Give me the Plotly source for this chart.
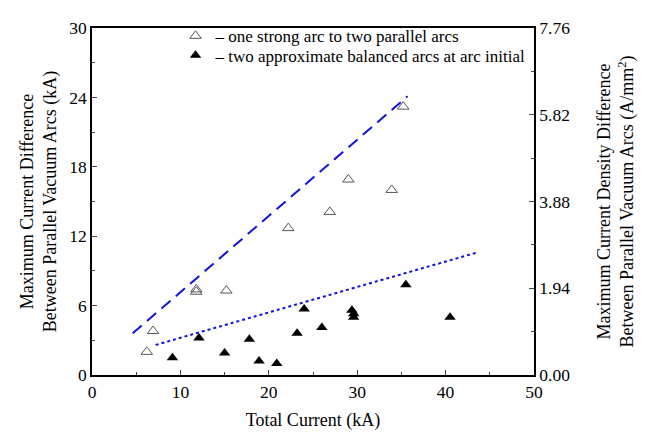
import plotly.graph_objects as go

# open triangles: one strong arc to two parallel arcs
open_x = [6.2, 6.9, 11.8, 11.8, 15.2, 22.2, 26.9, 29.0, 33.9, 35.2]
open_y = [2.0, 3.8, 7.2, 7.4, 7.3, 12.7, 14.1, 16.9, 16.0, 23.2]

# filled triangles: two approximate balanced arcs at arc initial
fill_x = [9.1, 12.1, 15.0, 17.8, 18.9, 20.9, 23.2, 24.0, 26.0, 29.4, 29.6, 29.6, 35.5, 40.5]
fill_y = [1.5, 3.2, 1.9, 3.1, 1.2, 1.0, 3.6, 5.7, 4.1, 5.6, 5.3, 5.0, 7.8, 5.0]

# fitted trend lines (end points)
dash_x = [4.6, 35.7]
dash_y = [3.6, 24.1]
dot_x = [7.2, 43.6]
dot_y = [2.6, 10.6]

y2_ticks = [0, 1.94, 3.88, 5.82, 7.76]
y2_labels = ["0.00", "1.94", "3.88", "5.82", "7.76"]

FONT = "Liberation Serif"

fig = go.Figure()
fig.add_trace(go.Scatter(x=dash_x, y=dash_y, mode="lines", showlegend=False,
                         line=dict(color="#1010e0", width=2, dash="12px,7px")))
fig.add_trace(go.Scatter(x=dot_x, y=dot_y, mode="lines", showlegend=False,
                         line=dict(color="#1010e0", width=2, dash="3px,3px")))
fig.add_trace(go.Scatter(x=open_x, y=open_y, mode="markers",
                         name="– one strong arc to two parallel arcs", legend="legend",
                         marker=dict(symbol="triangle-up-open", size=10, color="#555555",
                                     line=dict(width=1))))
fig.add_trace(go.Scatter(x=fill_x, y=fill_y, mode="markers",
                         name="– two approximate balanced arcs at arc initial", legend="legend2",
                         marker=dict(symbol="triangle-up", size=10, color="black")))
fig.add_trace(go.Scatter(x=[None], y=[None], yaxis="y2", showlegend=False))

tickfont = dict(family=FONT, size=17.5, color="black")
titlefont = dict(family=FONT, size=18, color="black")
legfont = dict(family=FONT, size=17, color="black")

fig.update_layout(
    width=648, height=439,
    margin=dict(l=84, r=122, t=10, b=72),
    paper_bgcolor="white", plot_bgcolor="white",
    font=dict(family=FONT, color="black"),
    xaxis=dict(range=[0, 50], dtick=10, tick0=0, ticks="inside", ticklen=5,
               minor=dict(ticks="inside", dtick=5, ticklen=3),
               showline=True, linecolor="black", linewidth=1.5, mirror=True,
               showgrid=False, zeroline=False, tickfont=tickfont,
               title=dict(text="Total Current (kA)", font=titlefont, standoff=13)),
    yaxis=dict(range=[0, 30], dtick=6, tick0=0, ticks="inside", ticklen=5,
               minor=dict(ticks="inside", dtick=3, ticklen=3),
               showline=True, linecolor="black", linewidth=1.5,
               showgrid=False, zeroline=False, tickfont=tickfont,
               title=dict(text="Maximum Current Difference<br>Between Parallel Vacuum Arcs (kA)",
                          font=titlefont, standoff=8)),
    yaxis2=dict(range=[0, 7.76], overlaying="y", side="right", anchor="x",
                tickvals=y2_ticks, ticktext=y2_labels, ticks="inside", ticklen=5,
                minor=dict(ticks="inside", dtick=0.97, tick0=0, ticklen=3),
                showline=True, linecolor="black", linewidth=1.5,
                showgrid=False, zeroline=False, tickfont=tickfont,
                title=dict(text="Maximum Current Density Difference<br>Between Parallel Vacuum Arcs (A/mm<sup>2</sup>)",
                           font=titlefont, standoff=28)),
    legend=dict(x=0.189, y=1.028, xanchor="left", yanchor="top", bgcolor="rgba(0,0,0,0)",
                font=legfont, itemwidth=30),
    legend2=dict(x=0.189, y=0.972, xanchor="left", yanchor="top", bgcolor="rgba(0,0,0,0)",
                 font=legfont, itemwidth=30),
)

fig.write_html("out.html")
